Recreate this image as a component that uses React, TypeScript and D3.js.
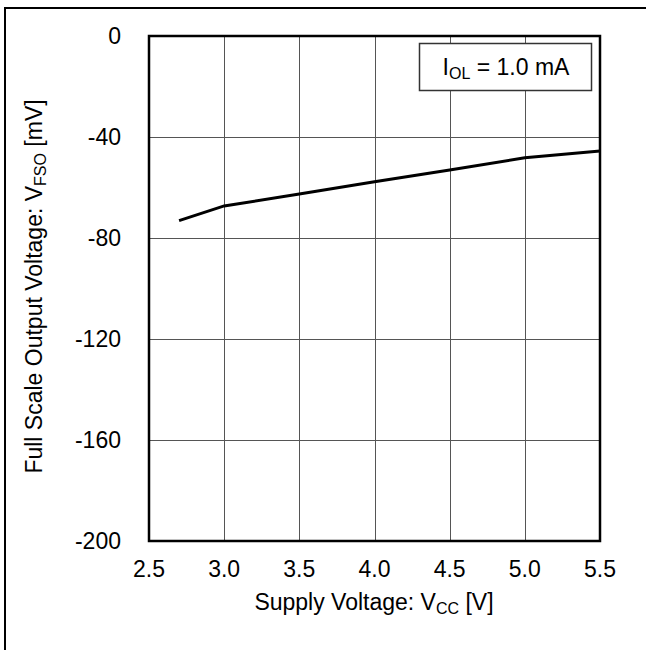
import { useEffect, useRef } from "react";
import * as d3 from "d3";

// supply voltage [V] and full scale output voltage [mV]
const vcc = [2.7, 3.0, 3.5, 4.0, 4.5, 5.0, 5.5];
const vfso = [-73.1, -67.3, -62.6, -57.7, -53.1, -48.2, -45.5];

const xTicks = [2.5, 3.0, 3.5, 4.0, 4.5, 5.0, 5.5];
const yTicks = [0, -40, -80, -120, -160, -200];

const App = () => {
  const ref = useRef<SVGSVGElement>(null);

  useEffect(() => {
    const width = 646;
    const height = 650;
    const margin = { top: 36, right: 46, bottom: 109, left: 149 };
    const font = "'Liberation Sans', Arial, sans-serif";
    const fs = 23;
    const sub = 16;

    const svg = d3.select(ref.current);
    svg.selectAll("*").remove();
    svg.attr("width", width).attr("height", height);

    // outer frame
    svg
      .append("rect")
      .attr("x", 5)
      .attr("y", 8)
      .attr("width", 660)
      .attr("height", 660)
      .attr("fill", "#fff")
      .attr("stroke", "#000")
      .attr("stroke-width", 2);

    const xScale = d3
      .scaleLinear()
      .domain([2.5, 5.5])
      .range([margin.left, width - margin.right]);
    const yScale = d3
      .scaleLinear()
      .domain([-200, 0])
      .range([height - margin.bottom, margin.top]);

    // grid
    const grid = svg.append("g").attr("stroke", "#555").attr("stroke-width", 1);
    grid
      .selectAll("line.v")
      .data(xTicks.slice(1, -1))
      .join("line")
      .attr("class", "v")
      .attr("x1", (d) => Math.round(xScale(d)) + 0.5)
      .attr("x2", (d) => Math.round(xScale(d)) + 0.5)
      .attr("y1", yScale(0))
      .attr("y2", yScale(-200));
    grid
      .selectAll("line.h")
      .data(yTicks.slice(1, -1))
      .join("line")
      .attr("class", "h")
      .attr("y1", (d) => Math.round(yScale(d)) + 0.5)
      .attr("y2", (d) => Math.round(yScale(d)) + 0.5)
      .attr("x1", xScale(2.5))
      .attr("x2", xScale(5.5));

    // data line
    const line = d3
      .line<number>()
      .x((d, i) => xScale(vcc[i]))
      .y((d) => yScale(d));
    svg
      .append("path")
      .datum(vfso)
      .attr("d", line)
      .attr("fill", "none")
      .attr("stroke", "#000")
      .attr("stroke-width", 3);

    // plot border
    svg
      .append("rect")
      .attr("x", xScale(2.5))
      .attr("y", yScale(0))
      .attr("width", xScale(5.5) - xScale(2.5))
      .attr("height", yScale(-200) - yScale(0))
      .attr("fill", "none")
      .attr("stroke", "#000")
      .attr("stroke-width", 2.5);

    // tick labels
    svg
      .append("g")
      .selectAll("text")
      .data(xTicks)
      .join("text")
      .attr("x", (d) => xScale(d))
      .attr("y", yScale(-200) + 36)
      .attr("text-anchor", "middle")
      .attr("font-family", font)
      .attr("font-size", fs)
      .text((d) => d.toFixed(1));
    svg
      .append("g")
      .selectAll("text")
      .data(yTicks)
      .join("text")
      .attr("x", margin.left - 28)
      .attr("y", (d) => yScale(d) + 8)
      .attr("text-anchor", "end")
      .attr("font-family", font)
      .attr("font-size", fs)
      .text((d) => String(d));

    // x title
    const xt = svg
      .append("text")
      .attr("x", 374)
      .attr("y", 610)
      .attr("text-anchor", "middle")
      .attr("font-family", font)
      .attr("font-size", 23);
    xt.append("tspan").text("Supply Voltage: V");
    xt.append("tspan").attr("font-size", sub).attr("dy", 4).text("CC");
    xt.append("tspan").attr("dy", -4).text(" [V]");

    // y title
    const yt = svg
      .append("text")
      .attr("transform", `translate(42,${(yScale(0) + yScale(-200)) / 2 - 2}) rotate(-90)`)
      .attr("text-anchor", "middle")
      .attr("font-family", font)
      .attr("font-size", 23);
    yt.append("tspan").text("Full Scale Output Voltage: V");
    yt.append("tspan").attr("font-size", sub).attr("dy", 4).text("FSO");
    yt.append("tspan").attr("dy", -4).text(" [mV]");

    // legend box
    svg
      .append("rect")
      .attr("x", 419.5)
      .attr("y", 43.5)
      .attr("width", 172)
      .attr("height", 47)
      .attr("fill", "#fff")
      .attr("stroke", "#333")
      .attr("stroke-width", 1.5);
    const lt = svg
      .append("text")
      .attr("x", 506)
      .attr("y", 75)
      .attr("text-anchor", "middle")
      .attr("font-family", font)
      .attr("font-size", 23);
    lt.append("tspan").text("I");
    lt.append("tspan").attr("font-size", sub).attr("dy", 4).text("OL");
    lt.append("tspan").attr("dy", -4).text(" = 1.0 mA");
  }, []);

  return <svg ref={ref} style={{ position: "absolute", left: 0, top: 0 }}></svg>;
};

export default App;
